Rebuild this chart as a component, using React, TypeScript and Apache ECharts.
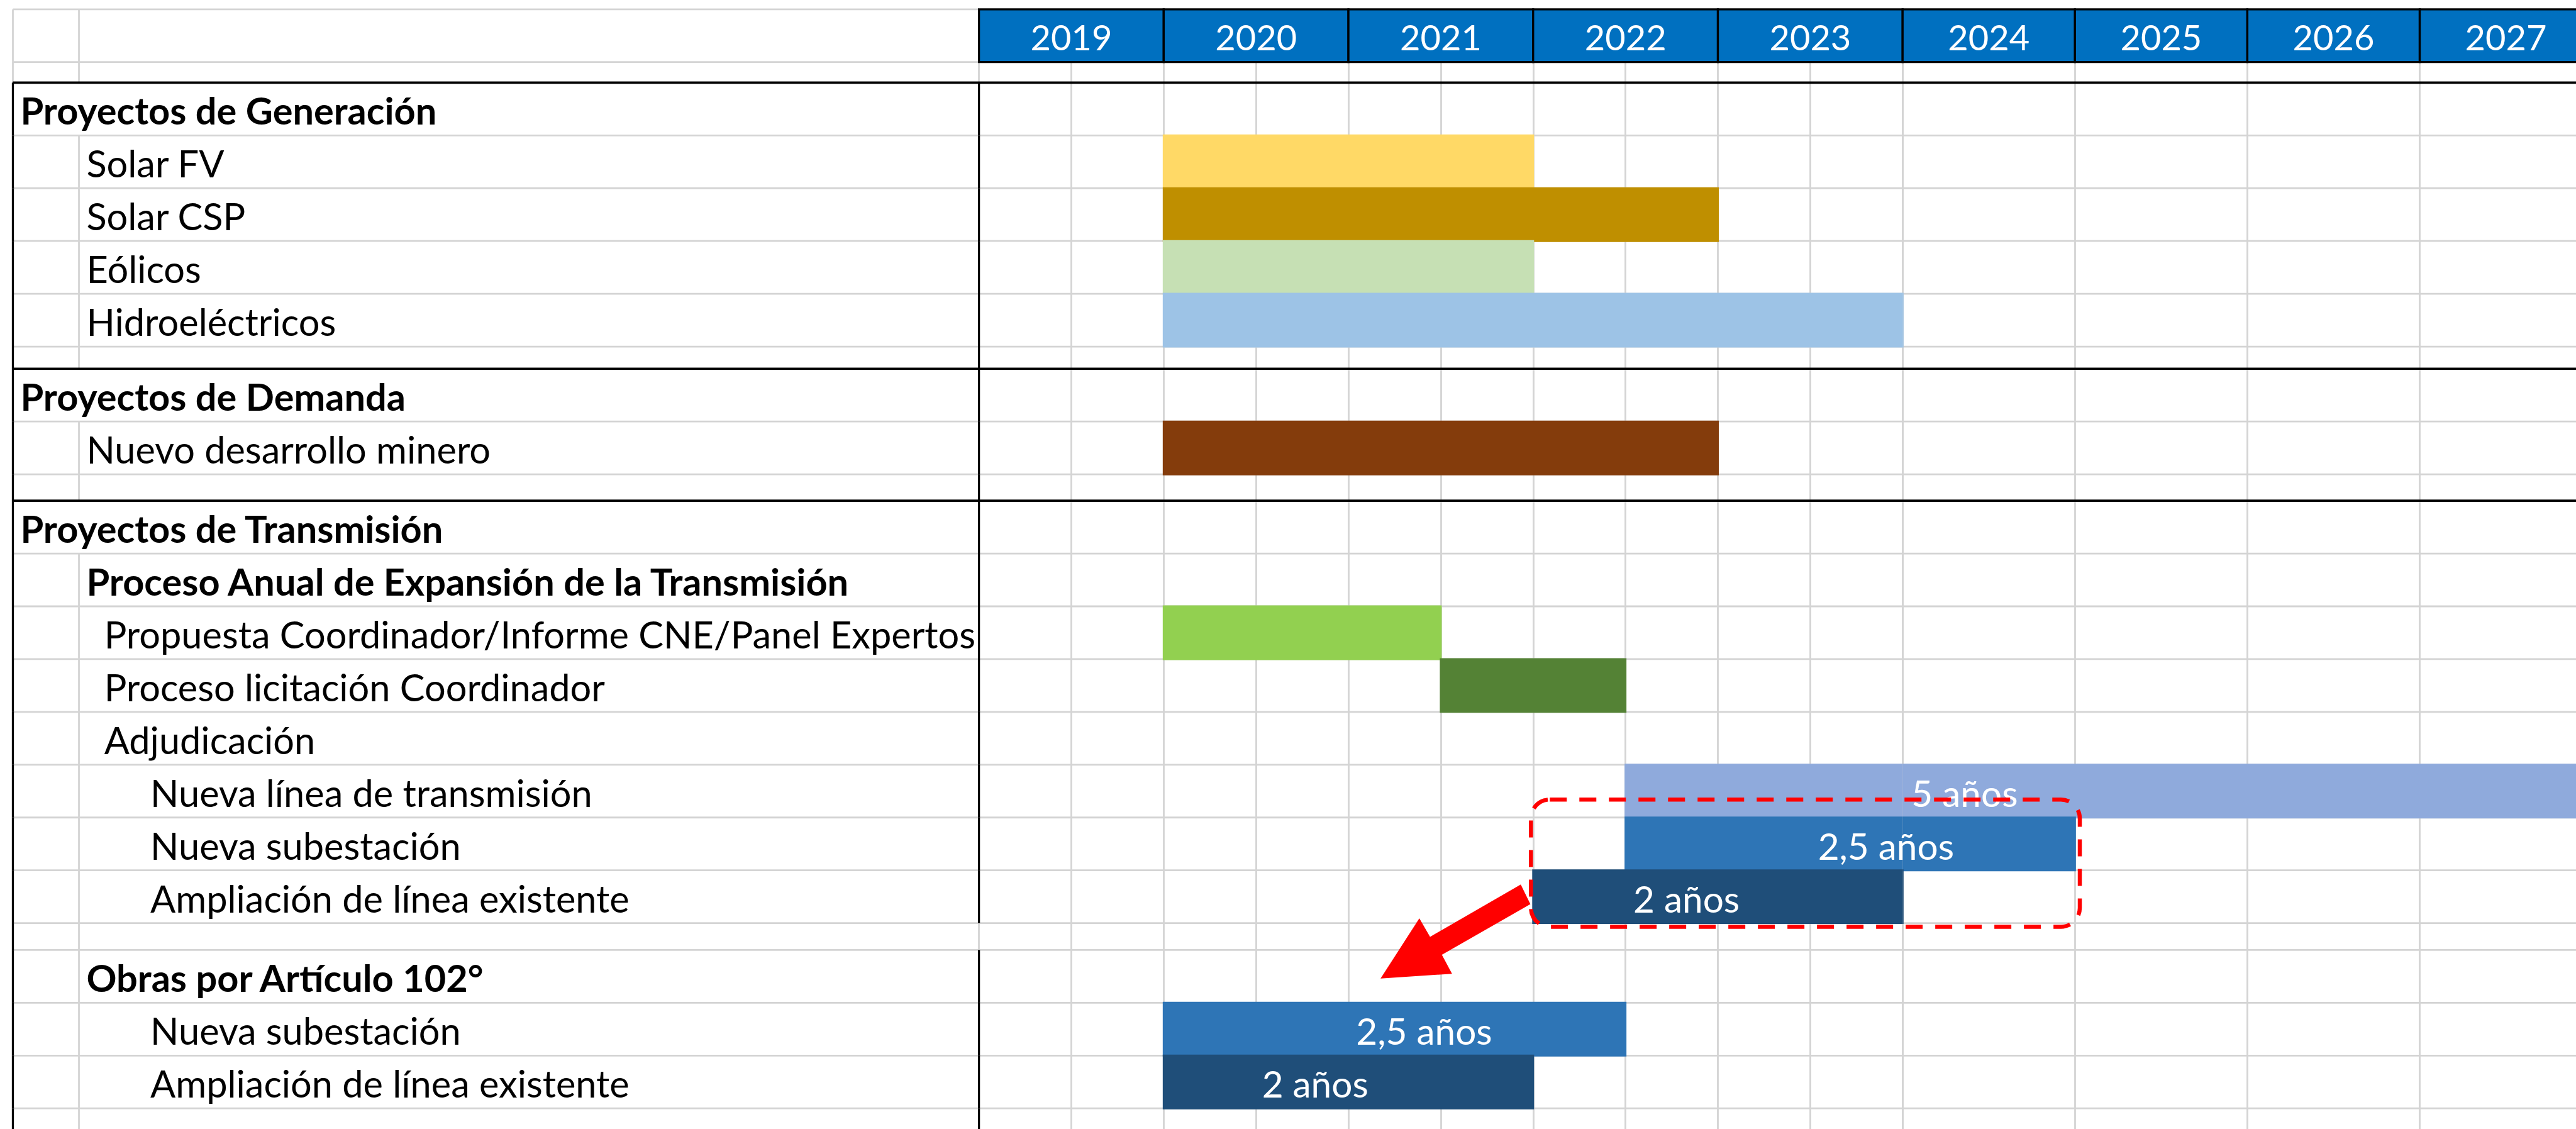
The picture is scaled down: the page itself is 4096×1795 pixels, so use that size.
import React, { useEffect, useRef } from "react";
import * as echarts from "echarts";

// ================= DATA =================
const HALF_YEAR_COLUMNS = [2019, 2020, 2021, 2022, 2023];
const FULL_YEAR_COLUMNS = [2024, 2025, 2026, 2027];

const ROW_LABELS = [
  "",
  "Proyectos de Generación",
  "Solar FV",
  "Solar CSP",
  "Eólicos",
  "Hidroeléctricos",
  "",
  "Proyectos de Demanda",
  "Nuevo desarrollo minero",
  "",
  "Proyectos de Transmisión",
  "Proceso Anual de Expansión de la Transmisión",
  "Propuesta Coordinador/Informe CNE/Panel Expertos",
  "Proceso licitación Coordinador",
  "Adjudicación",
  "Nueva línea de transmisión",
  "Nueva subestación",
  "Ampliación de línea existente",
  "",
  "Obras por Artículo 102°",
  "Nueva subestación",
  "Ampliación de línea existente",
  "",
];
const ROW_LEVEL = [-1, 0, 1, 1, 1, 1, -1, 0, 1, -1, 0, 1, 2, 2, 2, 3, 3, 3, -1, 1, 3, 3, -1];
const ROW_BOLD = [false, true, false, false, false, false, false, true, false, false, true, true, false, false, false, false, false, false, false, true, false, false, false];

const TASK_ROW = [2, 3, 4, 5, 8, 12, 13, 15, 16, 17, 20, 21];
const TASK_START = [2020, 2020, 2020, 2020, 2020, 2020, 2021.5, 2022.5, 2022.5, 2022, 2020, 2020];
const TASK_END = [2022, 2023, 2022, 2024, 2023, 2021.5, 2022.5, 2028, 2025, 2024, 2022.5, 2022];
const TASK_LABEL = ["", "", "", "", "", "", "", "5 años", "2,5 años", "2 años", "2,5 años", "2 años"];

// ================= LAYOUT / STYLE =================
const W = 4096;
const H = 1795;
const S = W / 4797;
const X_LEFT = 24 * S;
const X_COL2 = 147 * S;
const X_2019 = 1823 * S;
const X_2024 = 3543 * S;
const YEAR_W_B = 321 * S;
const X_MAX_B = 2024 + (W - X_2024) / YEAR_W_B;
const HEADER_TOP = 17.5 * S;
const HEADER_BOTTOM = 115.5 * S;
const ROW_UNIT = 98.3 * S;
const Y_MAX = (H - HEADER_BOTTOM) / ROW_UNIT;
const ROW_HEIGHTS = [0.39, 1, 1, 1, 1, 1, 0.42, 1, 1, 0.5, 1, 1, 1, 1, 1, 1, 1, 1, 0.51, 1, 1, 1, 1];
const ROW_TOPS: number[] = (() => {
  const t: number[] = [];
  let acc = 0;
  for (const h of ROW_HEIGHTS) {
    t.push(acc);
    acc += h;
  }
  return t;
})();
const INDENT: Record<number, number> = { 0: 38 * S, 1: 161 * S, 2: 194 * S, 3: 280 * S };
const NO_DIVIDER_ROWS = [0, 18];

const GRID_COLOR = "#D4D4D4";
const GRID_W = 2.8;
const BLACK_W = 3.3;
const HEADER_BLUE = "#0070C0";
const FONT_FAMILY = "Lato, 'Noto Sans', sans-serif";
const LABEL_FONT = 59.5;
const YEAR_FONT = 56;
const BAR_FONT = 58.5;
const TEXT_DY = 2;
const TASK_COLOR = ["#FFD966", "#BF8F00", "#C6E0B4", "#9DC3E6", "#843C0C", "#92D050", "#548235", "#8FAADC", "#2E75B6", "#1F4E79", "#2E75B6", "#1F4E79"];
const TASK_LABEL_AT = [0, 0, 0, 0, 0, 0, 0, 2024.36, 2023.91, 2022.83, 2021.41, 2020.82];

// annotation (in data units: year, row units)
const BOX = { x0: 2021.988, x1: 2025.028, y0: 13.97, y1: 16.38 };
const ARROW = [
  [2021.933, 15.58],
  [2021.442, 16.57],
  [2021.384, 16.22],
  [2021.174, 17.36],
  [2021.561, 17.27],
  [2021.506, 16.91],
  [2021.985, 15.95],
];

const fontOf = (bold: boolean, size: number) => `${bold ? "bold" : "normal"} ${size}px ${FONT_FAMILY}`;

const renderTable = (params: any, api: any) => {
  const i = api.value(3);
  const yT = api.coord([0, api.value(1)])[1];
  const yB = api.coord([0, api.value(2)])[1];
  const level = ROW_LEVEL[i];
  const ch: any[] = [];
  ch.push({ type: "line", shape: { x1: X_LEFT, y1: yB, x2: W, y2: yB }, style: { stroke: GRID_COLOR, lineWidth: GRID_W } });
  if (level !== 0) {
    ch.push({ type: "line", shape: { x1: X_COL2, y1: yT, x2: X_COL2, y2: yB }, style: { stroke: GRID_COLOR, lineWidth: GRID_W } });
  }
  ch.push({
    type: "line",
    shape: { x1: X_LEFT, y1: yT, x2: X_LEFT, y2: yB },
    style: { stroke: i === 0 ? GRID_COLOR : "#000", lineWidth: i === 0 ? GRID_W : BLACK_W },
  });
  if (NO_DIVIDER_ROWS.indexOf(i) < 0) {
    ch.push({ type: "line", shape: { x1: X_2019, y1: yT, x2: X_2019, y2: yB }, style: { stroke: "#000", lineWidth: BLACK_W } });
  }
  if (level === 0) {
    ch.push({ type: "line", shape: { x1: X_LEFT, y1: yT, x2: W, y2: yT }, style: { stroke: "#000", lineWidth: 3.6 } });
  }
  if (ROW_LABELS[i]) {
    ch.push({
      type: "text",
      x: INDENT[level],
      y: (yT + yB) / 2 + TEXT_DY,
      style: { text: ROW_LABELS[i], font: fontOf(ROW_BOLD[i], LABEL_FONT), fill: "#000", align: "left", verticalAlign: "middle" },
    });
  }
  return { type: "group", children: ch };
};

const renderFrame = () => {
  const g = { stroke: GRID_COLOR, lineWidth: GRID_W };
  return {
    type: "group",
    children: [
      { type: "line", shape: { x1: X_LEFT, y1: HEADER_TOP, x2: X_2019, y2: HEADER_TOP }, style: g },
      { type: "line", shape: { x1: X_LEFT, y1: HEADER_BOTTOM, x2: X_2019, y2: HEADER_BOTTOM }, style: g },
      { type: "line", shape: { x1: X_LEFT, y1: HEADER_TOP, x2: X_LEFT, y2: HEADER_BOTTOM }, style: g },
      { type: "line", shape: { x1: X_COL2, y1: HEADER_TOP, x2: X_COL2, y2: HEADER_BOTTOM }, style: g },
    ],
  };
};

const renderHeader = (params: any, api: any) => {
  const y = api.value(0);
  const x0 = api.coord([y, 0])[0];
  const x1 = api.coord([y + 1, 0])[0];
  return {
    type: "group",
    children: [
      {
        type: "rect",
        shape: { x: x0, y: HEADER_TOP, width: x1 - x0, height: HEADER_BOTTOM - HEADER_TOP },
        style: { fill: HEADER_BLUE, stroke: "#000", lineWidth: BLACK_W },
      },
      {
        type: "text",
        x: (x0 + x1) / 2,
        y: (HEADER_TOP + HEADER_BOTTOM) / 2 + TEXT_DY,
        style: { text: String(y), font: fontOf(false, YEAR_FONT), fill: "#fff", align: "center", verticalAlign: "middle" },
      },
    ],
  };
};

const makeBarRender = (lo: number, hi: number) => (params: any, api: any) => {
  const cs = params.coordSys;
  const i = api.value(4);
  const p0 = api.coord([api.value(0), api.value(2)]);
  const p1 = api.coord([api.value(1), api.value(3)]);
  const x0 = Math.max(p0[0] - 1.5, cs.x);
  const x1 = Math.min(p1[0] + 1.5, cs.x + cs.width);
  const ch: any[] = [];
  if (x1 > x0) {
    ch.push({
      type: "rect",
      shape: { x: x0, y: p0[1] - 1.5, width: x1 - x0, height: p1[1] - p0[1] + 3 },
      style: { fill: TASK_COLOR[i] },
    });
  }
  const at = TASK_LABEL_AT[i];
  if (TASK_LABEL[i] && at >= lo && at < hi) {
    const c = api.coord([at, (api.value(2) + api.value(3)) / 2]);
    ch.push({
      type: "text",
      x: c[0],
      y: c[1] + TEXT_DY,
      z2: 5,
      style: { text: TASK_LABEL[i], font: fontOf(false, BAR_FONT), fill: "#fff", align: "center", verticalAlign: "middle" },
    });
  }
  return { type: "group", children: ch };
};

const hiddenAxis = { axisLine: { show: false }, axisTick: { show: false }, axisLabel: { show: false } };

export default function App() {
  const ref = useRef<HTMLDivElement>(null);
  useEffect(() => {
    if (!ref.current) return;
    const chart = echarts.init(ref.current, null, { renderer: "svg" });
    const taskData = TASK_START.map((s, i) => [s, TASK_END[i], ROW_TOPS[TASK_ROW[i]], ROW_TOPS[TASK_ROW[i]] + ROW_HEIGHTS[TASK_ROW[i]], i]);
    const rowData = ROW_LABELS.map((_, i) => [0, ROW_TOPS[i], ROW_TOPS[i] + ROW_HEIGHTS[i], i]);
    const gridH = H - HEADER_BOTTOM;
    chart.setOption({
      animation: false,
      backgroundColor: "#fff",
      grid: [
        { left: X_LEFT, top: HEADER_BOTTOM, width: X_2019 - X_LEFT, height: gridH },
        { left: X_2019, top: HEADER_BOTTOM, width: X_2024 - X_2019, height: gridH },
        { left: X_2024, top: HEADER_BOTTOM, width: W - X_2024, height: gridH },
      ],
      xAxis: [
        { gridIndex: 0, type: "value", min: 0, max: 1, show: false },
        {
          gridIndex: 1, type: "value", min: 2019, max: 2024, interval: 0.5, ...hiddenAxis,
          splitLine: { show: true, showMinLine: true, showMaxLine: true, lineStyle: { color: GRID_COLOR, width: GRID_W } },
        },
        {
          gridIndex: 2, type: "value", min: 2024, max: X_MAX_B, interval: 1, ...hiddenAxis,
          splitLine: { show: true, showMinLine: true, showMaxLine: false, lineStyle: { color: GRID_COLOR, width: GRID_W } },
        },
      ],
      yAxis: [0, 1, 2].map((g) => ({ gridIndex: g, type: "value", inverse: true, min: 0, max: Y_MAX, show: false })),
      series: [
        { type: "custom", name: "tabla", xAxisIndex: 0, yAxisIndex: 0, z: 2, renderItem: renderTable, data: rowData },
        { type: "custom", name: "marco", xAxisIndex: 0, yAxisIndex: 0, z: 2, renderItem: renderFrame, data: [[0, 0]] },
        { type: "custom", name: "barras A", xAxisIndex: 1, yAxisIndex: 1, z: 5, renderItem: makeBarRender(2019, 2024), data: taskData },
        { type: "custom", name: "barras B", xAxisIndex: 2, yAxisIndex: 2, z: 5, renderItem: makeBarRender(2024, 2100), data: taskData },
        { type: "custom", name: "años A", xAxisIndex: 1, yAxisIndex: 1, z: 8, renderItem: renderHeader, data: HALF_YEAR_COLUMNS.map((y) => [y, 0]) },
        { type: "custom", name: "años B", xAxisIndex: 2, yAxisIndex: 2, z: 8, renderItem: renderHeader, data: FULL_YEAR_COLUMNS.map((y) => [y, 0]) },
      ],
    });
    const px = (x: number, y: number) => chart.convertToPixel({ gridIndex: x <= 2024 ? 1 : 2 }, [x, y]) as number[];
    const b0 = px(BOX.x0, BOX.y0);
    const b1 = px(BOX.x1, BOX.y1);
    chart.setOption({
      graphic: [
        {
          type: "polygon",
          z: 20,
          shape: { points: ARROW.map((p) => px(p[0], p[1])) },
          style: { fill: "#FF0000" },
        },
        {
          type: "rect",
          z: 21,
          shape: { x: b0[0], y: b0[1], width: b1[0] - b0[0], height: b1[1] - b0[1], r: 30 },
          style: { fill: "none", stroke: "#FF0000", lineWidth: 6.5, lineDash: [27, 20] },
        },
      ],
    });
    return () => chart.dispose();
  }, []);
  return <div ref={ref} style={{ position: "fixed", left: 0, top: 0, width: W, height: H }} />;
}
